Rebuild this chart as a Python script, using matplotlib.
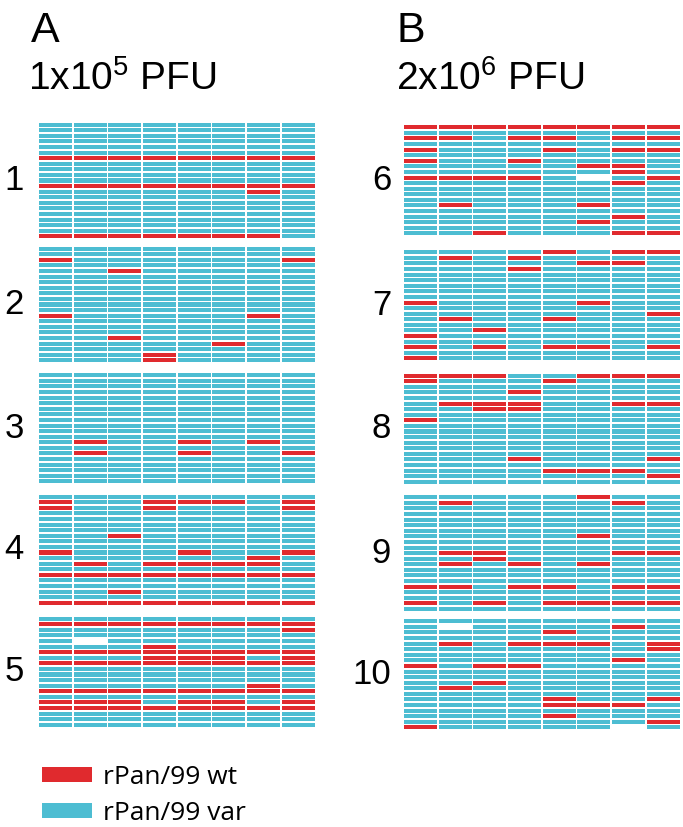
import matplotlib.pyplot as plt
from matplotlib.patches import Patch

plt.rcParams['font.family'] = ['Liberation Sans', 'DejaVu Sans']
plt.rcParams['mathtext.fontset'] = 'custom'
plt.rcParams['mathtext.rm'] = 'Liberation Sans'

RED = '#e02a2e'
CYAN = '#4dbdd2'

# one string per clone row, one char per animal column
# r = rPan/99 wt, b = rPan/99 var, . = no clone
mouse1 = ["bbbbbbbb", "bbbbbbbb", "bbbbbbbb", "bbbbbbbb", "bbbbbbbb", "bbbbbbbb",
          "rrrrrrrr", "bbbbbbbb", "bbbbbbbb", "bbbbbbbb", "bbbbbbbb", "rrrrrrrr",
          "bbbbbbrb", "bbbbbbbb", "bbbbbbbb", "bbbbbbbb", "bbbbbbbb", "bbbbbbbb",
          "bbbbbbbb", "bbbbbbbb", "rrrrrrrb"]
mouse2 = ["bbbbbbbb", "bbbbbbbb", "rbbbbbbr", "bbbbbbbb", "bbrbbbbb", "bbbbbbbb",
          "bbbbbbbb", "bbbbbbbb", "bbbbbbbb", "bbbbbbbb", "bbbbbbbb", "bbbbbbbb",
          "rbbbbbrb", "bbbbbbbb", "bbbbbbbb", "bbbbbbbb", "bbrbbbbb", "bbbbbrbb",
          "bbbbbbbb", "bbbrbbbb", "bbbrbbbb"]
mouse3 = ["bbbbbbbb", "bbbbbbbb", "bbbbbbbb", "bbbbbbbb", "bbbbbbbb", "bbbbbbbb",
          "bbbbbbbb", "bbbbbbbb", "bbbbbbbb", "bbbbbbbb", "bbbbbbbb", "bbbbbbbb",
          "brbbrbrb", "bbbbbbbb", "brbbrbbr", "bbbbbbbb", "bbbbbbbb", "bbbbbbbb",
          "bbbbbbbb", "bbbbbbbb"]
mouse4 = ["bbbbbbbb", "rbbrrrbr", "rbbrbbbr", "bbbbbbbb", "bbbbbbbb", "bbbbbbbb",
          "bbbbbbbb", "bbrbbbbb", "bbbbbbbb", "bbbbbbbb", "rbbbrbbr", "bbbbbbrb",
          "brbrrrrb", "bbbbbbbb", "rrrrrrrr", "bbbbbbbb", "bbbbbbbb", "bbrbbbbb",
          "bbbbbbbb", "rrrrrrrr"]
mouse5 = ["bbbbbbbb", "rrrrrrrr", "bbbbbbbr", "bbbbbbbb", "b.bbbbbb", "bbbrbbbb",
          "rrrrrrrr", "bbbrrrbr", "rrrrrrrr", "bbbbbbbb", "bbbbbbbb", "bbbbbbbb",
          "bbbbbbrb", "rrrrrrrr", "bbbbbbbb", "rrrbrrbr", "rrrrrrrr", "bbbbbbbb",
          "bbbbbbbb", "bbbbbbbb"]
mouse6 = ["rrrrrrrr", "bbbbbbbb", "rrbrrbrr", "bbbbbbbb", "rbbbrbrr", "bbbbbbbb",
          "rbbrbbbb", "bbbbbrrb", "bbbbbbrb", "rrrrb.br", "bbbbbbrb", "bbbbbbbb",
          "bbbbbbbb", "bbbbbbbb", "brbbbrbb", "bbbbbbbb", "bbbbbbrb", "bbbbbrbb",
          "bbbbbbbb", "bbrbbbrr"]
mouse7 = ["bbbbrbrr", "brbrbbbb", "bbbbbrrb", "bbbrbbbb", "bbbbbbbb", "bbbbbbbb",
          "bbbbbbbb", "bbbbbbbb", "bbbbbbbb", "rbbbbrbb", "bbbbbbbb", "bbbbbbbr",
          "brbbrbbb", "bbbbbbbb", "bbrbbbbb", "rbbbbbbb", "bbbbbbbb", "rbrbrrbr",
          "bbbbbbbb", "rbbbbbbb"]
mouse8 = ["rrrbbrrr", "rbbbrbbb", "bbbbbbbb", "bbbrbbbb", "bbbbbbbb", "brrrbbrr",
          "bbrrbbbb", "bbbbbbbb", "rbbbbbbb", "bbbbbbbb", "bbbbbbbb", "bbbbbbbb",
          "bbbbbbbb", "bbbbbbbb", "bbbbbbbb", "bbbrbbbr", "bbbbbbbb", "bbbbrrrb",
          "bbbbbbbr", "bbbbbbbb"]
mouse9 = ["bbbbbrbb", "brbbbbrb", "bbbbbbbb", "bbbbbbbb", "bbbbbbbb", "bbbbbbbb",
          "bbbbbbbb", "bbbbbrbb", "bbbbbbbb", "bbbbbbbb", "brrbbbrr", "bbrbbbbb",
          "brbrbrbb", "bbbbbbbb", "bbbbbbbb", "bbbbbbbb", "rrbrrbrr", "bbbbbbbb",
          "bbbbbbbb", "rbrbrrrr", "bbbbbbbb"]
mouse10 = ["bbbbbbbb", "b.bbbbrb", "bbbbrbbb", "bbbbbbbb", "brbrrrbr", "bbbbbbbr",
           "bbbbbbbb", "bbbbbbrb", "rbrrbbbb", "bbbbbbbb", "bbbbbbbb", "bbrbbbbb",
           "brbbbbbb", "bbbbbbbb", "bbbbrbbr", "bbbbrrrb", "bbbbbbbb", "bbbbrbbb",
           "bbbbbbbr", "rbbbbb.b"]

panel_labels = ["1", "2", "3", "4", "5", "6", "7", "8", "9", "10"]
panels = [mouse1, mouse2, mouse3, mouse4, mouse5,
          mouse6, mouse7, mouse8, mouse9, mouse10]
# layout in pixels: left edge of grid, centre of first row
grid_left = [38.3] * 5 + [403.3] * 5
first_row = [124.7, 248.7, 375.3, 496.7, 618.7, 127.3, 252.3, 375.7, 497.3, 621.3]

W, H = 683, 827
pitch = 5.58
grid_w = 277.4

fig = plt.figure(figsize=(W / 100, H / 100), dpi=100)

for k in range(len(panels)):
    rows = panels[k]
    n = len(rows)
    top = first_row[k] - pitch / 2
    h = n * pitch
    ax = fig.add_axes([grid_left[k] / W, 1 - (top + h) / H, grid_w / W, h / H])
    ys, xs, cs = [], [], []
    for i in range(n):
        for j in range(len(rows[i])):
            c = rows[i][j]
            if c == '.':
                continue
            ys.append(i)
            xs.append(j + 0.02)
            cs.append(RED if c == 'r' else CYAN)
    ax.barh(ys, 0.955, left=xs, height=0.72, color=cs, linewidth=0)
    ax.set_xlim(0, 8)
    ax.set_ylim(n - 0.5, -0.5)
    ax.axis('off')

    yc = 1 - (top + h / 2) / H
    if k < 5:
        fig.text(14 / W, yc, panel_labels[k], fontsize=25, ha='center', va='center')
    else:
        fig.text(391 / W, yc, panel_labels[k], fontsize=25, ha='right', va='center')

fig.text(31 / W, 1 - 42 / H, "A", fontsize=31, ha='left', va='baseline')
fig.text(396 / W, 1 - 42 / H, "B", fontsize=31, ha='left', va='baseline')
fig.text(28 / W, 1 - 90 / H, r"1x10$^{\mathregular{5}}$ PFU", fontsize=28, ha='left', va='baseline')
fig.text(396 / W, 1 - 90 / H, r"2x10$^{\mathregular{6}}$ PFU", fontsize=28, ha='left', va='baseline')

handles = [Patch(facecolor=RED, edgecolor='none', label='rPan/99 wt'),
           Patch(facecolor=CYAN, edgecolor='none', label='rPan/99 var')]
fig.legend(handles=handles, loc='lower left', bbox_to_anchor=(42 / W, 1 / H),
           frameon=False, prop={'family': 'Open Sans', 'size': 19},
           handlelength=1.9, handleheight=0.52, handletextpad=0.4, labelspacing=0.42,
           borderpad=0, borderaxespad=0)

fig.savefig("out.png", dpi=100)
